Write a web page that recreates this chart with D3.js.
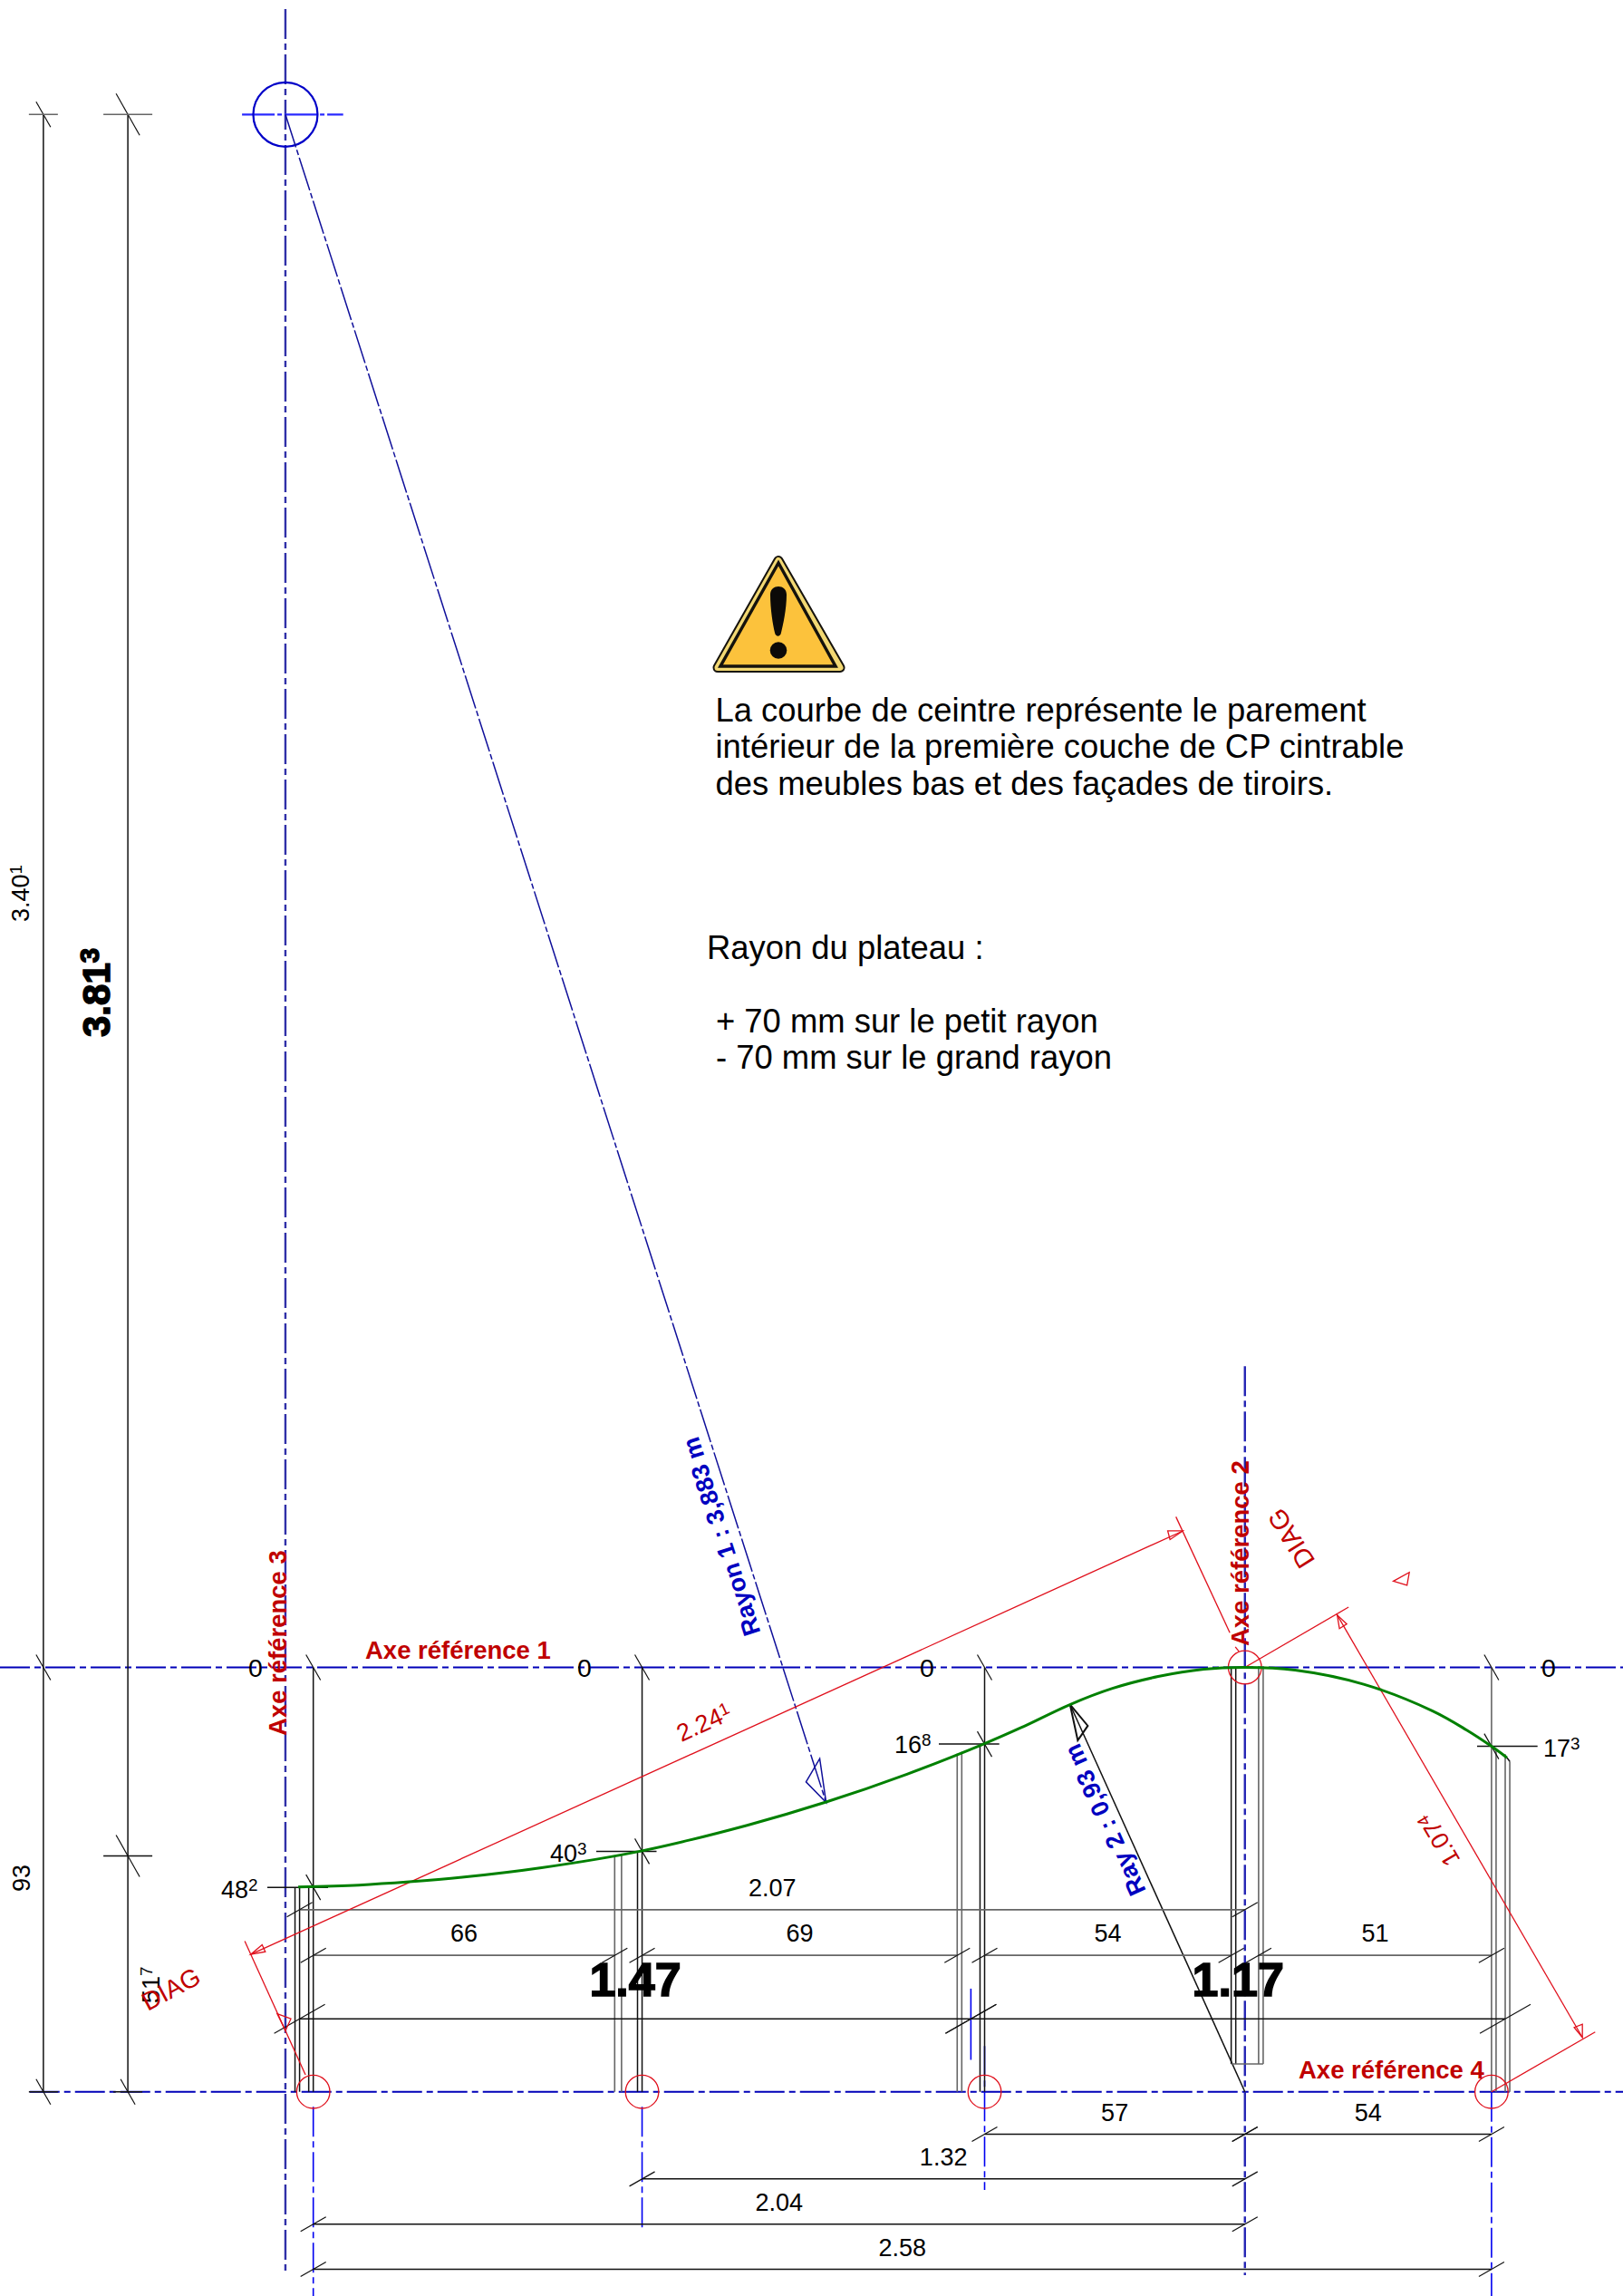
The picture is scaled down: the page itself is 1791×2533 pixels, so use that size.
<!DOCTYPE html>
<html>
<head>
<meta charset="utf-8">
<title>Courbe de ceintre</title>
<script src="https://cdn.jsdelivr.net/npm/d3@7"></script>
<style>
    body { margin: 0; background: #fff; }
    text { font-family: "Liberation Sans", Arial, sans-serif; }
    .axis { fill: none; stroke: #0000b8; stroke-width: 2; stroke-dasharray: 33 5 7 5; }
    .dim { stroke: #111; stroke-width: 1.5; fill: none; }
    .grey { stroke: #666; stroke-width: 1.6; fill: none; }
    .red { stroke: #e0101c; stroke-width: 1.3; fill: none; }
    .drop { stroke: #0000f0; stroke-width: 1.6; fill: none; stroke-dasharray: 33 5 7 5; }
    .dark { stroke: #10109a; stroke-width: 1.5; fill: none; }
</style>
</head>
<body>
<div id="chart"></div>
<script>
// all lengths are metres. y grows downwards from "Axe reference 1"
var stations = [0, 0.72, 1.47, 2.04, 2.58];
var offsets = [0.482, 0.403, 0.168, 0, 0.173];
var offsetLabels = [["48", "2"], ["40", "3"], ["16", "8"], null, ["17", "3"]];
var baseDepth = 0.93;

// green curve, points
var curveX = [-0.033, 0.1, 0.21, 0.326, 0.5, 0.72, 0.95, 1.123, 1.3, 1.47, 1.55, 1.658, 1.75, 1.85, 1.95, 2.04, 2.15, 2.3, 2.45, 2.525, 2.58, 2.614];
var curveY = [0.481, 0.477, 0.47, 0.46, 0.439, 0.402, 0.346, 0.295, 0.234, 0.167, 0.132, 0.081, 0.046, 0.02, 0.004, 0, 0.006, 0.037, 0.095, 0.137, 0.173, 0.198];

// panel edges at each station: [x, top, bottom]
var panelEdges = [
    [-0.04, 0.482, 0.93], [-0.03, 0.482, 0.93], [-0.01, 0.482, 0.93], [0, 0.482, 0.93],
    [0.66, 0.413, 0.93], [0.675, 0.41, 0.93], [0.71, 0.405, 0.93], [0.72, 0.403, 0.93],
    [1.41, 0.189, 0.93], [1.42, 0.185, 0.93], [1.46, 0.172, 0.93], [1.47, 0.168, 0.93],
    [2.01, 0, 0.869], [2.02, 0, 0.869], [2.07, 0, 0.869], [2.08, 0, 0.869],
    [2.59, 0.18, 0.93], [2.61, 0.19, 0.93], [2.62, 0.206, 0.93]
];
var greyEdges = [0.66, 0.675, 1.41, 1.42, 2.07, 2.08, 2.59, 2.61, 2.62];

// horizontal dimension rows: depth of each row, then [row, from, to, label]
var rowDepths = [0.531, 0.631, 0.77, 1.023, 1.121, 1.22, 1.319];
var rowSpans = [
    [0, -0.03, 2.04, "2.07"],
    [1, 0, 0.66, "66"], [1, 0.72, 1.41, "69"], [1, 1.47, 2.01, "54"], [1, 2.07, 2.58, "51"],
    [2, -0.03, 1.44, "1.47"], [2, 1.44, 2.61, "1.17"],
    [3, 1.47, 2.04, "57"], [3, 2.04, 2.58, "54"],
    [4, 0.72, 2.04, "1.32"],
    [5, 0, 2.04, "2.04"],
    [6, 0, 2.58, "2.58"]
];

// vertical dimension lines at the left
var leftDims = [-0.591, -0.406];
var centreX = -0.061, centreY = -3.403;
var secondStop = 0.413;

var radius1Arrow = [[1.123, 0.296], [1.079, 0.251], [1.109, 0.2]];
var radius2Arrow = [[1.657, 0.081], [1.696, 0.128], [1.674, 0.16]];

// red diagonal dimensions
var redLines = [
    [-0.137, 0.629, 1.904, -0.299],
    [-0.017, 0.893, -0.15, 0.6],
    [1.889, -0.33, 2.007, -0.076],
    [2.019, -0.045, 2.027, -0.035],
    [2.242, -0.115, 2.779, 0.811],
    [2.04, 0, 2.267, -0.132],
    [2.58, 0.93, 2.807, 0.799]
];
var redArrows = [
    [[-0.137, 0.629], [-0.105, 0.623], [-0.112, 0.608]],
    [[-0.079, 0.759], [-0.049, 0.77], [-0.061, 0.796]],
    [[1.904, -0.299], [1.871, -0.299], [1.876, -0.28]],
    [[2.365, -0.189], [2.4, -0.208], [2.395, -0.18]],
    [[2.242, -0.115], [2.263, -0.095], [2.247, -0.085]],
    [[2.779, 0.811], [2.761, 0.789], [2.779, 0.782]]
];
var redCircles = [[0, 0.93], [0.72, 0.93], [1.47, 0.93], [2.58, 0.93], [2.04, 0]];

var noteLines = [
    "La courbe de ceintre représente le parement",
    "intérieur de la première couche de CP cintrable",
    "des meubles bas et des façades de tiroirs."
];
var plateauLines = ["+ 70 mm sur le petit rayon", "- 70 mm sur le grand rayon"];

var width = 1791, height = 2533;

var X = d3.scaleLinear().domain([0, 2.58]).range([345.7, 1645.9]);
var Y = d3.scaleLinear().domain([0, 0.93]).range([1839.5, 2307.7]);

var svg = d3.select("#chart").append("svg")
    .attr("width", width)
    .attr("height", height)
    .style("display", "block");

function seg(x1, y1, x2, y2, cls) {
    return svg.append("line")
        .attr("class", cls)
        .attr("x1", X(x1)).attr("y1", Y(y1))
        .attr("x2", X(x2)).attr("y2", Y(y2));
}

// slash tick, dx and dy are screen half sizes
function tick(x, y, dx, dy) {
    svg.append("line")
        .attr("class", "dim")
        .style("stroke-width", 1.2)
        .attr("x1", X(x) - dx).attr("y1", Y(y) - dy)
        .attr("x2", X(x) + dx).attr("y2", Y(y) + dy);
}

function label(str, sup, x, y, size, color, opts) {
    opts = opts || {};
    var t = svg.append("text")
        .attr("transform", "translate(" + x + "," + y + ") rotate(" + (opts.angle || 0) + ")")
        .attr("text-anchor", opts.anchor || "start")
        .attr("font-size", size)
        .attr("font-weight", opts.bold ? "bold" : "normal")
        .attr("fill", color)
        .text(str);
    if (opts.heavy) {
        t.attr("stroke", color).attr("stroke-width", opts.heavy);
    }
    if (sup) {
        t.append("tspan")
            .attr("font-size", size * 0.7)
            .attr("dy", -size * 0.28)
            .text(sup);
    }
    return t;
}

var outline = d3.line()
    .x(function(d){ return X(d[0]); })
    .y(function(d){ return Y(d[1]); });

// ---- centre lines ----
seg(X.invert(0), 0, X.invert(width), 0, "axis");
seg(-0.621, baseDepth, X.invert(width), baseDepth, "axis");
seg(centreX, Y.invert(10), centreX, Y.invert(2510), "axis").style("stroke", "#3030a8").style("stroke-width", 2.4);
seg(2.04, -0.66, 2.04, Y.invert(2510), "axis").style("stroke", "#2424b4").style("stroke-width", 2.4);

seg(-0.156, centreY, 0.0655, centreY, "axis").style("stroke", "#2a2aff").style("stroke-dasharray", "36 3 5 3").style("stroke-width", 2.2);

svg.append("circle")
    .attr("cx", X(centreX)).attr("cy", Y(centreY))
    .attr("r", 35.5)
    .attr("fill", "none")
    .attr("stroke", "#0000c8")
    .attr("stroke-width", 2.2);

// station drop lines below the base line
seg(0, 0.963, 0, Y.invert(2533), "drop");
seg(0.72, 0.963, 0.72, 1.228, "drop");
seg(1.47, 0.83, 1.47, 1.145, "drop");
seg(1.44, 0.704, 1.44, 0.86, "drop").style("stroke-dasharray", "none");
seg(2.58, 0.93, 2.58, Y.invert(2533), "drop");

// radii
seg(centreX, centreY, radius1Arrow[0][0], radius1Arrow[0][1], "dark").style("stroke-dasharray", "38 3 6 3");
svg.append("path").attr("class", "dark").attr("d", outline(radius1Arrow) + "Z");
seg(2.04, baseDepth, radius2Arrow[0][0], radius2Arrow[0][1], "dim");
svg.append("path").attr("class", "dim").style("stroke-width", 2).attr("d", outline(radius2Arrow) + "Z");

// ---- left dimension lines ----
leftDims.forEach(function(x, i){
    seg(x, centreY, x, baseDepth, "dim");
    var big = i == 1;
    tick(x, centreY, big ? 13 : 8, big ? 23 : 14);
    tick(x, baseDepth, 8, 14);
    svg.append("line").attr("class", "grey")
        .attr("x1", X(x) - (big ? 27 : 16)).attr("x2", X(x) + (big ? 27 : 16))
        .attr("y1", Y(centreY)).attr("y2", Y(centreY));
    svg.append("line").attr("class", "dim")
        .attr("x1", X(x) - 16).attr("x2", X(x) + 16)
        .attr("y1", Y(baseDepth)).attr("y2", Y(baseDepth));
});
tick(leftDims[0], 0, 8, 14);
tick(leftDims[1], secondStop, 13, 23);
svg.append("line").attr("class", "dim")
    .attr("x1", X(leftDims[1]) - 27).attr("x2", X(leftDims[1]) + 27)
    .attr("y1", Y(secondStop)).attr("y2", Y(secondStop));

// ---- panels ----
svg.selectAll(".panel")
    .data(panelEdges)
    .enter().append("line")
    .attr("class", function(d){ return greyEdges.indexOf(d[0]) >= 0 ? "grey" : "dim"; })
    .attr("x1", function(d){ return X(d[0]); })
    .attr("x2", function(d){ return X(d[0]); })
    .attr("y1", function(d){ return Y(d[1]); })
    .attr("y2", function(d){ return Y(d[2]); });
seg(2.01, 0.869, 2.08, 0.869, "grey");

// station lines from the zero axis down to the curve
stations.forEach(function(x, i){
    if (i == 3) return;
    seg(x, 0, x, i == 4 ? baseDepth : offsets[i], i == 4 ? "grey" : "dim");
    tick(x, 0, 8, 14);
    tick(x, offsets[i], 8, 14);
});

// offset leaders
var leaderX = [[295, 362], [658, 724.5], [1036, 1102.7], null, [1630, 1696.7]];
stations.forEach(function(x, i){
    if (!leaderX[i]) return;
    svg.append("line").attr("class", "dim")
        .attr("x1", leaderX[i][0]).attr("x2", leaderX[i][1])
        .attr("y1", Y(offsets[i])).attr("y2", Y(offsets[i]));
});

// ---- horizontal dimension rows ----
svg.selectAll(".rowline")
    .data(rowSpans)
    .enter().append("line")
    .attr("class", function(d){ return d[0] < 2 ? "grey" : "dim"; })
    .attr("x1", function(d){ return X(d[1]); })
    .attr("x2", function(d){ return X(d[2]); })
    .attr("y1", function(d){ return Y(rowDepths[d[0]]); })
    .attr("y2", function(d){ return Y(rowDepths[d[0]]); });

rowSpans.forEach(function(d){
    var big = d[0] == 2;
    var dx = big ? 28 : 14, dy = big ? -16 : -8;
    tick(d[1], rowDepths[d[0]], dx, dy);
    tick(d[2], rowDepths[d[0]], dx, dy);
});

// ---- red construction lines ----
svg.selectAll(".redline")
    .data(redLines)
    .enter().append("line")
    .attr("class", "red")
    .attr("x1", function(d){ return X(d[0]); })
    .attr("y1", function(d){ return Y(d[1]); })
    .attr("x2", function(d){ return X(d[2]); })
    .attr("y2", function(d){ return Y(d[3]); });

svg.selectAll(".redarrow")
    .data(redArrows)
    .enter().append("path")
    .attr("class", "red")
    .attr("d", function(d){ return outline(d) + "Z"; });

svg.selectAll(".redcircle")
    .data(redCircles)
    .enter().append("circle")
    .attr("class", "red")
    .attr("cx", function(d){ return X(d[0]); })
    .attr("cy", function(d){ return Y(d[1]); })
    .attr("r", 18.3);

// ---- green curve ----
svg.append("path")
    .datum(curveX.map(function(x, i){ return [x, curveY[i]]; }))
    .attr("fill", "none")
    .attr("stroke", "#008000")
    .attr("stroke-width", 3)
    .attr("d", d3.line()
        .x(function(d){ return X(d[0]); })
        .y(function(d){ return Y(d[1]); })
        .curve(d3.curveCatmullRom));
seg(2.614, 0.198, 2.62, 0.206, "dim");

// ---- warning sign ----
var sign = svg.append("g").attr("transform", "translate(760,590)");
var signEdge = "M99,28.5 L167,146.5 L32,146.5 Z";
sign.append("path").attr("d", signEdge)
    .attr("fill", "#15120c").attr("stroke", "#15120c").attr("stroke-width", 11).attr("stroke-linejoin", "round");
sign.append("path").attr("d", signEdge)
    .attr("fill", "#f2d873").attr("stroke", "#f2d873").attr("stroke-width", 7).attr("stroke-linejoin", "round");
sign.append("path").attr("d", "M99,31 L162,145 L35,145 Z")
    .attr("fill", "#fcc23c").attr("stroke", "#15120c").attr("stroke-width", 3.5).attr("stroke-linejoin", "miter");
sign.append("path")
    .attr("d", "M90,66 C90,54 108,54 108,66 C108,82 104,100 102,108 C101,113 96,113 95,108 C93,100 90,82 90,66 Z")
    .attr("fill", "#0c0a08");
sign.append("circle").attr("cx", 99).attr("cy", 127.5).attr("r", 9.3).attr("fill", "#0c0a08");

// ---- notes ----
noteLines.forEach(function(s, i){
    label(s, null, 789.5, 796 + i * 40.4, 36.4, "#000");
});
label("Rayon du plateau :", null, 780, 1058, 36.4, "#000");
plateauLines.forEach(function(s, i){
    label(s, null, 790, 1138.5 + i * 40.4, 36.4, "#000");
});

// ---- dimension labels ----
rowSpans.forEach(function(d){
    var big = d[0] == 2;
    var y = Y(rowDepths[d[0]]) - (big ? 25 : 15);
    var size = big ? 52 : 27;
    label(d[3], null, (X(d[1]) + X(d[2])) / 2, y, size, "#000",
        {anchor: "middle", bold: big, heavy: big ? 1.6 : 0});
});

var zeroX = [282, 645, 1023, 1709];
zeroX.forEach(function(x){
    label("0", null, x, Y(0) + 10, 28.5, "#000", {anchor: "middle"});
});

label(offsetLabels[0][0], offsetLabels[0][1], 244, 2094, 27, "#000");
label(offsetLabels[1][0], offsetLabels[1][1], 607, 2053.5, 27, "#000");
label(offsetLabels[2][0], offsetLabels[2][1], 987, 1934, 27, "#000");
label(offsetLabels[4][0], offsetLabels[4][1], 1703, 1937.5, 27, "#000");

label("3.40", "1", 32, 1017, 27, "#000", {angle: -90});
label("3.81", "3", 121, 1144, 42, "#000", {angle: -90, bold: true, heavy: 1.5});
label("93", null, 33, 2087, 27, "#000", {angle: -90});
label("51", "7", 176, 2210, 27, "#000", {angle: -90});

var red = "#c00000";
label("Axe référence 1", null, 403, 1830, 27.5, red, {bold: true});
label("Axe référence 2", null, 1377.5, 1816, 27.5, red, {angle: -90, bold: true});
label("Axe référence 3", null, 316, 1915, 27.5, red, {angle: -90, bold: true});
label("Axe référence 4", null, 1433, 2293, 27.5, red, {bold: true});

label("Rayon 1 : 3,883 m", null, 839.5, 1801, 27, "#0000c0", {angle: -107.7, bold: true});
label("Ray 2 : 0,93 m", null, 1265, 2086, 27, "#0000c0", {angle: -114.4, bold: true});

label("2.24", "1", 752, 1922, 27, red, {angle: -24.4});
label("1.07", "4", 1612, 2052, 27, red, {angle: -120});
label("DIAG", null, 163, 2219, 28, red, {angle: -28});
label("DIAG", null, 1452, 1722, 29, red, {angle: -122});
</script>
</body>
</html>
